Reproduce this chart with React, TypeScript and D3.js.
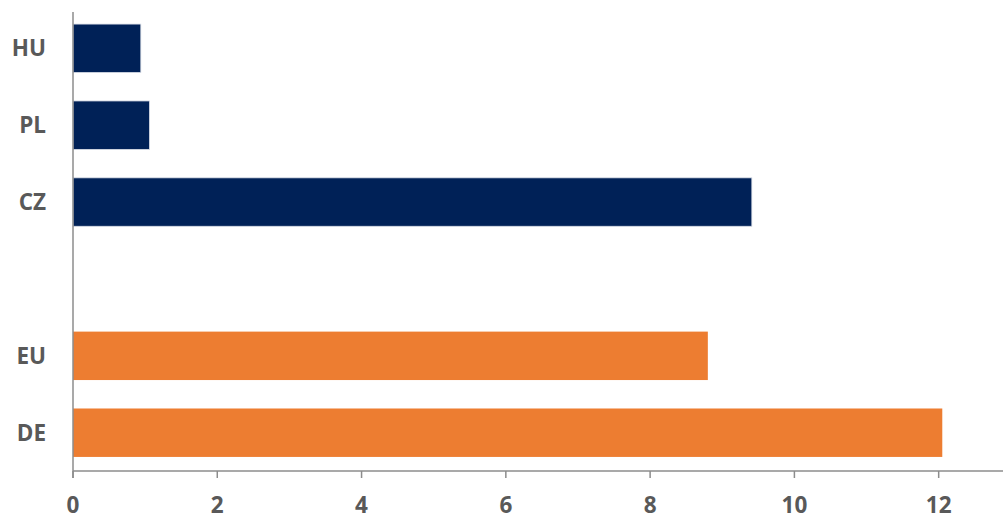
import React from "react";
import * as d3 from "d3";

const categories = ["HU", "PL", "CZ", "", "EU", "DE"];
const values = [0.94, 1.06, 9.41, null, 8.8, 12.05];
const groups = ["cee", "cee", "cee", "gap", "ref", "ref"];
const xTicks = [0, 2, 4, 6, 8, 10, 12];

const W = 1003;
const H = 520;
const colors: Record<string, string> = { cee: "#002157", ref: "#ED7D31" };

export default function App() {
  const x = d3.scaleLinear().domain([0, 14]).range([73, 73 + 14 * 72.14]);
  const y = d3
    .scaleBand<string>()
    .domain(categories)
    .range([11, 470])
    .paddingInner(0.37)
    .paddingOuter(0.17);
  const axisY = 471;
  const font = "'Open Sans', 'Liberation Sans', sans-serif";
  const fs = 22.5;
  return (
    <svg
      width={W}
      height={H}
      style={{ position: "absolute", left: 0, top: 0, background: "#fff" }}
    >
      {categories.map((c, i) =>
        values[i] == null ? null : (
          <rect
            key={c}
            x={x(0)}
            y={y(c)!}
            width={x(values[i] as number) - x(0)}
            height={y.bandwidth()}
            fill={colors[groups[i]]}
            stroke={groups[i] === "cee" ? "#d9dde6" : "none"}
            strokeWidth={0.8}
          />
        )
      )}
      {/* x axis */}
      <line x1={x(0)} x2={W} y1={axisY} y2={axisY} stroke="#8c8c8c" strokeWidth={1.5} />
      {xTicks.map((t) => (
        <g key={t}>
          <line x1={x(t)} x2={x(t)} y1={axisY} y2={axisY + 7} stroke="#8c8c8c" strokeWidth={1.5} />
          <text
            x={x(t)}
            y={513}
            textAnchor="middle"
            fontFamily={font}
            fontWeight="bold"
            fontSize={fs}
            fill="#595959"
          >
            {t}
          </text>
        </g>
      ))}
      {/* y axis */}
      <line x1={x(0)} x2={x(0)} y1={12} y2={478} stroke="#8c8c8c" strokeWidth={1.5} />
      {categories.map((c) =>
        c === "" ? null : (
          <text
            key={c}
            x={46}
            y={y(c)! + y.bandwidth() / 2}
            dy="0.36em"
            textAnchor="end"
            fontFamily={font}
            fontWeight="bold"
            fontSize={fs}
            fill="#595959"
          >
            {c}
          </text>
        )
      )}
    </svg>
  );
}
